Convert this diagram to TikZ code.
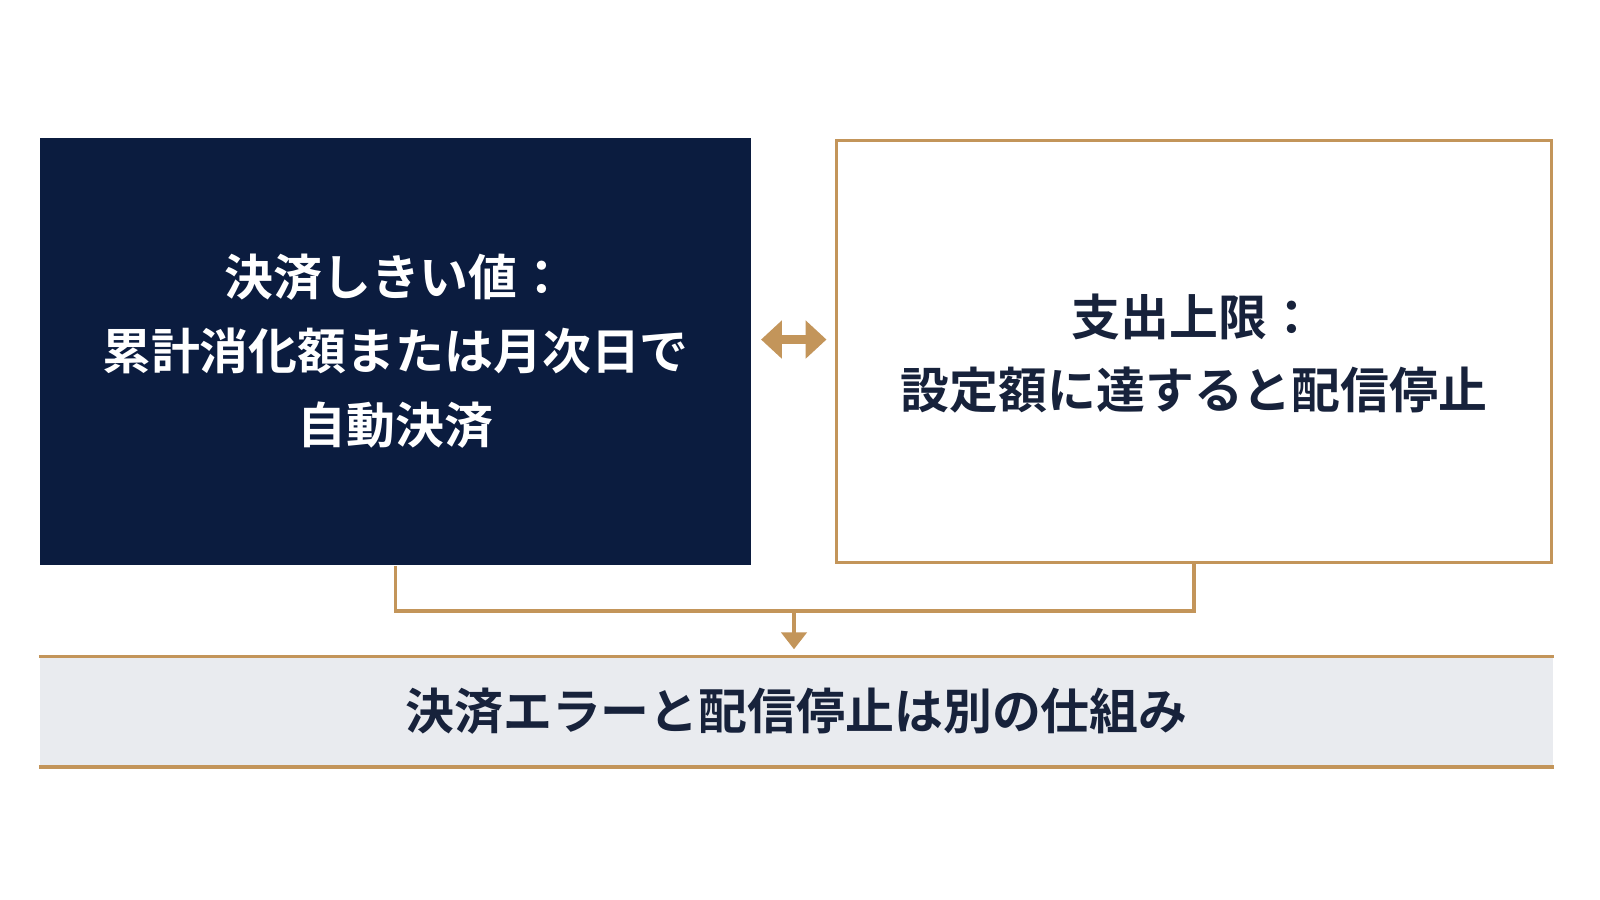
\documentclass[tikz,border=0pt]{standalone}
\usepackage{fontspec}
\newfontfamily\jpfont{Noto Sans CJK JP}[BoldFont={Noto Sans CJK JP Bold}]
\usetikzlibrary{arrows.meta}
\definecolor{navy}{HTML}{0B1C3F}
\definecolor{gold}{HTML}{C3955A}
\definecolor{inkblue}{HTML}{17223B}
\definecolor{bandgray}{HTML}{E9EBEF}
\tikzset{box/.style={minimum width=7.11cm,minimum height=4.27cm,align=center,
  font=\jpfont\bfseries\fontsize{13.9pt}{21pt}\selectfont,inner sep=0pt}}
\tikzset{conn/.style={draw=gold,line width=1pt}}
\tikzset{twoway/.style={draw=gold,line width=2.8pt,
  {Triangle[length=5.9pt,width=10.5pt]}-{Triangle[length=5.9pt,width=10.5pt]}}}
\begin{document}
\begin{tikzpicture}[x=0.01cm,y=-0.01cm]
      \useasboundingbox[fill=white] (0,0) rectangle (1600,900);
      \node [box,fill=navy,text=white] (cap) at (395.5,351.5)
        {決済しきい値：\\累計消化額または月次日で\\自動決済};
      \node [box,draw=gold,line width=1pt,text=inkblue,minimum width=7.15cm,minimum height=4.22cm]
        (limit) at (1194,351.5) {\\[-8pt]支出上限：\\設定額に達すると配信停止};
      \node [box,fill=bandgray,text=inkblue,minimum width=15.13cm,minimum height=1.09cm]
        (note) at (796.5,711.5) {決済エラーと配信停止は別の仕組み};
      \draw [conn] (note.north west) -- (note.north east);
      \draw [conn] (note.south west) -- (note.south east);
      \draw [twoway] ([xshift=2.6pt,yshift=3.4pt] cap.east) -- ([xshift=-2.3pt,yshift=3.4pt] limit.west);
      \draw [conn] (cap.south) -- ++(0,45) -| (limit.south);
      \coordinate (join) at (794,610);
      \draw [conn,-{Triangle[length=4.8pt,width=7.2pt]}] (join) -- ([yshift=2pt] join |- note.north);
    \end{tikzpicture}
\end{document}
